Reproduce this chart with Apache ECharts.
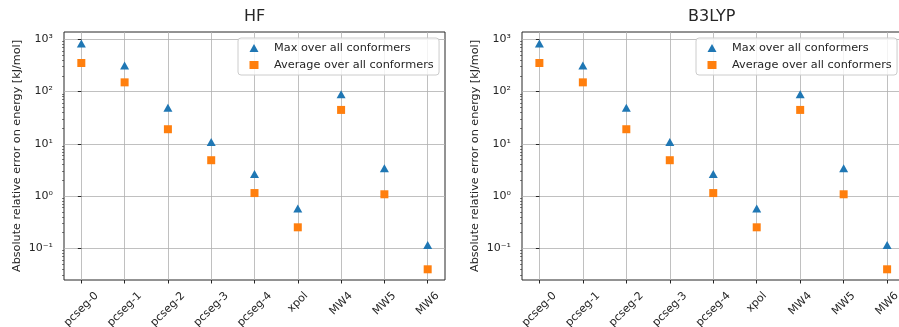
<!DOCTYPE html>
<html>
<head>
<meta charset="utf-8">
<script src="https://cdn.jsdelivr.net/npm/echarts@6/dist/echarts.min.js"></script>
<style>
html,body{margin:0;padding:0;background:#fff;}
#chart{width:899px;height:327px;}
</style>
</head>
<body>
<div id="chart"></div>
<script>
const categories = ['pcseg-0','pcseg-1','pcseg-2','pcseg-3','pcseg-4','xpol','MW4','MW5','MW6'];
const hfMax = [830, 315, 49, 10.8, 2.65, 0.575, 89, 3.4, 0.116];
const hfAvg = [352, 150, 19, 4.85, 1.14, 0.252, 44.5, 1.08, 0.0396];
const b3lypMax = [830, 315, 49, 10.8, 2.65, 0.575, 89, 3.4, 0.116];
const b3lypAvg = [352, 150, 19, 4.85, 1.14, 0.252, 44.5, 1.08, 0.0396];
const yMajorTicks = [0.1, 1, 10, 100, 1000];
const titles = ['HF', 'B3LYP'];
const seriesNames = ['Max over all conformers', 'Average over all conformers'];

const FONT = 'DejaVu Sans';
const XFS = 11;
const sup = {'-':'\u207B','0':'\u2070','1':'\u00B9','2':'\u00B2','3':'\u00B3','4':'\u2074','5':'\u2075','6':'\u2076','7':'\u2077','8':'\u2078','9':'\u2079'};
function powLabel(v){
  const e = Math.round(Math.log10(v));
  return '10' + String(e).split('').map(c => sup[c]).join('');
}
const idx = categories.map((c, i) => i);
const minorTicks = [];
for (let e = -2; e <= 3; e++) for (let m = 2; m <= 9; m++) {
  const v = m * Math.pow(10, e);
  if (v > 0.0247 && v < 1380) minorTicks.push(v);
}
const pair = arr => arr.map((v, i) => [i, v]);

// measure label widths so rotated labels are centred on ticks (matplotlib style)
const ctx = document.createElement('canvas').getContext('2d');
ctx.font = XFS + 'px "' + FONT + '"';
const labelW = categories.map(c => ctx.measureText(c).width);

const grids = [
  {left: 64, width: 381, top: 32, bottom: 47},
  {left: 522, width: 382.5, top: 32, bottom: 47}
];
const xAxes = [], yAxes = [], series = [], legends = [], titleOpts = [];
const titleLefts = [244, 688];
const legendLefts = [238, 696];
const data = [[hfMax, hfAvg], [b3lypMax, b3lypAvg]];

grids.forEach((g, k) => {
  g.show = true; g.borderColor = '#262626'; g.borderWidth = 1; g.backgroundColor = '#fff';
  g.containLabel = false; g.outerBoundsMode = 'none';
  const pxPerUnit = g.width / 8.8;
  const labelPos = idx.map(i => i + 0.354 * labelW[i] / pxPerUnit);
  xAxes.push({
    type: 'value', gridIndex: k, min: -0.4, max: 8.4,
    axisLine: {show: false},
    axisTick: {show: true, length: 3.5, lineStyle: {color: '#262626'}, customValues: idx},
    axisLabel: {customValues: labelPos, rotate: 45, fontFamily: FONT, fontSize: XFS, color: '#262626', margin: 14,
      formatter: v => categories[Math.floor(v + 1e-9)] || ''},
    splitLine: {show: true, lineStyle: {color: '#b0b0b0', width: 0.8}}
  });
  yAxes.push({
    type: 'log', logBase: 10, gridIndex: k, min: 0.0247, max: 1380,
    name: 'Absolute relative error on energy [kJ/mol]', nameLocation: 'middle', nameGap: 41,
    nameTextStyle: {fontFamily: FONT, fontSize: 11.2, color: '#262626'},
    axisLine: {show: false},
    axisTick: {show: true, length: 3.5, lineStyle: {color: '#262626'}, customValues: yMajorTicks},
    axisLabel: {customValues: yMajorTicks, fontFamily: FONT, fontSize: 11, color: '#262626', margin: 11,
      formatter: v => powLabel(v)},
    splitLine: {show: true, lineStyle: {color: '#b0b0b0', width: 0.8}}
  });
  yAxes.push({
    type: 'log', logBase: 10, gridIndex: k, min: 0.0247, max: 1380, position: 'left',
    axisLine: {show: false},
    axisTick: {show: true, length: 2, lineStyle: {color: '#262626', width: 0.6}, customValues: minorTicks},
    axisLabel: {show: false},
    splitLine: {show: false}
  });
  titleOpts.push({text: titles[k], left: titleLefts[k], top: 9, padding: 0,
    textStyle: {fontFamily: FONT, fontSize: 16, fontWeight: 'normal', color: '#262626'}});
  series.push({
    name: seriesNames[0], type: 'scatter', xAxisIndex: k, yAxisIndex: 2 * k,
    symbol: 'triangle', symbolSize: [9, 8], data: pair(data[k][0]),
    itemStyle: {color: '#1f77b4', opacity: 1}, z: 3
  });
  series.push({
    name: seriesNames[1], type: 'scatter', xAxisIndex: k, yAxisIndex: 2 * k,
    symbol: 'rect', symbolSize: 8, data: pair(data[k][1]),
    itemStyle: {color: '#ff7f0e', opacity: 1}, z: 3
  });
  legends.push({
    data: [{name: seriesNames[0], icon: 'triangle'}, {name: seriesNames[1], icon: 'rect'}],
    orient: 'vertical', left: legendLefts[k], top: 38,
    padding: [4.5, 5.4, 4.5, 11.5], itemWidth: 9, itemHeight: 8, itemGap: 6,
    backgroundColor: 'rgba(255,255,255,0.8)', borderColor: '#cccccc', borderWidth: 1, borderRadius: 3,
    textStyle: {fontFamily: FONT, fontSize: 11.3, color: '#262626', padding: [0, 0, 0, 10.5]},
    selectedMode: false
  });
});

const chart = echarts.init(document.getElementById('chart'), null, {renderer: 'canvas'});
chart.setOption({
  animation: false,
  backgroundColor: '#fff',
  title: titleOpts,
  grid: grids,
  xAxis: xAxes,
  yAxis: yAxes,
  legend: legends,
  series: series
});
</script>
</body>
</html>
